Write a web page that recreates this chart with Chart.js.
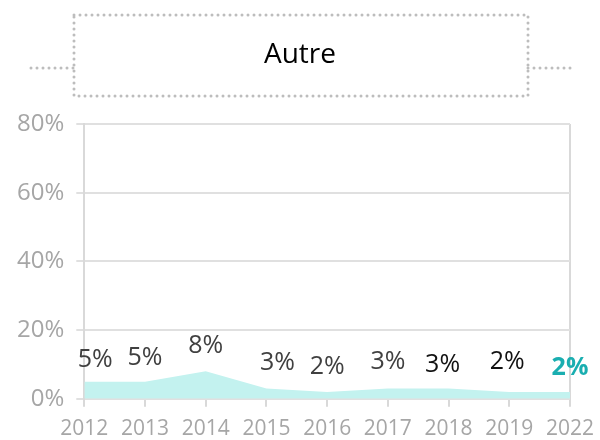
<!DOCTYPE html>
<html>
<head>
<meta charset="utf-8">
<script src="https://cdn.jsdelivr.net/npm/chart.js@4.4.0/dist/chart.umd.min.js"></script>
<style>
  body { margin: 0; background: #fff; }
</style>
</head>
<body>
<canvas id="autreChart" width="600" height="440"></canvas>
<script>
const years = ['2012', '2013', '2014', '2015', '2016', '2017', '2018', '2019', '2022'];
const shares = [5, 5, 8, 3, 2, 3, 3, 2, 2];
const yTicks = [0, 20, 40, 60, 80];
const titleText = 'Autre';

const fontFamily = "'Open Sans', sans-serif";

// title with its dotted frame
const titleBox = {
  id: 'titleBox',
  afterDraw(chart) {
    const c = chart.ctx;
    c.save();
    c.fillStyle = '#000';
    c.font = '28px ' + fontFamily;
    c.textAlign = 'center';
    c.textBaseline = 'middle';
    c.fillText(titleText, 300, 55);
    c.strokeStyle = '#bdbdbd';
    c.lineWidth = 3;
    c.lineCap = 'round';
    c.setLineDash([0, 6]);
    c.strokeRect(74, 15, 454, 81);
    c.beginPath();
    c.moveTo(31, 68); c.lineTo(74, 68);
    c.moveTo(528, 68); c.lineTo(573, 68);
    c.stroke();
    c.restore();
  }
};

// value labels above each point
const valueLabels = {
  id: 'valueLabels',
  afterDatasetsDraw(chart, args, opts) {
    const c = chart.ctx;
    const meta = chart.getDatasetMeta(0);
    c.save();
    c.textAlign = 'center';
    c.textBaseline = 'middle';
    meta.data.forEach((pt, i) => {
      const last = i === meta.data.length - 1;
      c.font = (last ? 'bold ' : '') + opts.size + 'px ' + fontFamily;
      c.fillStyle = opts.colors[i];
      const off = opts.offsets[i];
      c.fillText(shares[i] + '%', pt.x + off[0], pt.y + off[1]);
    });
    c.restore();
  }
};

const ctx = document.getElementById('autreChart').getContext('2d');

const myChart = new Chart(ctx, {
  type: 'line',
  data: {
    labels: years,
    datasets: [{
      label: titleText,
      data: shares,
      fill: 'origin',
      backgroundColor: '#c3f2ef',
      borderWidth: 0,
      borderColor: 'rgba(0,0,0,0)',
      pointRadius: 0,
      tension: 0
    }]
  },
  options: {
    responsive: false,
    animation: false,
    layout: { padding: { left: 5, right: 30, top: 124, bottom: -12 } },
    plugins: {
      legend: { display: false },
      tooltip: { enabled: false },
      title: { display: false },
      valueLabels: {
        size: 25,
        colors: ['#404040', '#404040', '#404040', '#404040', '#404040', '#404040', '#111111', '#111111', '#1aaeb0'],
        offsets: [[11, -22], [0, -24], [0, -25], [11, -26], [0, -25], [0, -27], [-6, -24], [-2, -30], [0, -24]]
      }
    },
    scales: {
      x: {
        offset: false,
        afterFit: (axis) => { axis.paddingLeft = 0; axis.paddingRight = 0; },
        grid: {
          color: (c) => c.index === years.length - 1 ? '#d9d9d9' : 'rgba(0,0,0,0)',
          tickColor: '#d9d9d9',
          lineWidth: 2,
          tickLength: 8
        },
        border: { display: false },
        ticks: {
          color: '#a6a6a6',
          font: { family: fontFamily, size: 21 },
          padding: 10,
          maxRotation: 0,
          autoSkip: false
        }
      },
      y: {
        min: 0,
        max: 80,
        afterBuildTicks: (axis) => { axis.ticks = yTicks.map(v => ({ value: v })); },
        grid: {
          color: '#e0e0e0',
          tickColor: '#e0e0e0',
          lineWidth: 2,
          tickLength: 8
        },
        border: { color: '#d9d9d9', width: 2 },
        ticks: {
          color: '#a6a6a6',
          font: { family: fontFamily, size: 24 },
          padding: 12,
          callback: (v) => v + '%'
        }
      }
    }
  },
  plugins: [titleBox, valueLabels]
});
</script>
</body>
</html>
